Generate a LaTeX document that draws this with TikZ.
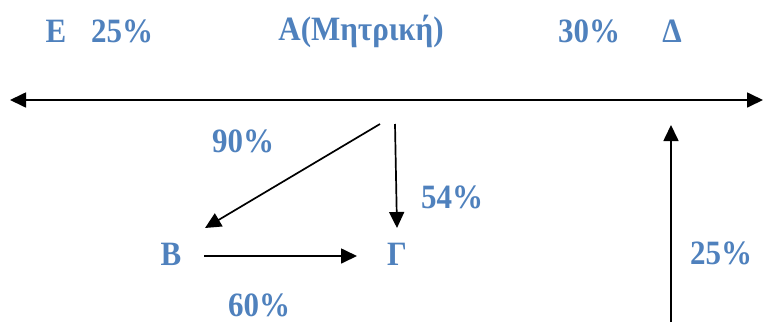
\documentclass[tikz,border=0pt]{standalone}
\usepackage{fontspec}
\setmainfont{Liberation Serif}
\usetikzlibrary{arrows.meta}
\definecolor{lblue}{HTML}{4F81BD}
\newcommand{\tall}[1]{\scalebox{1}[1.1]{#1}}
\begin{document}
\begin{tikzpicture}[x=1pt,y=-1pt,
  lbl/.style={text=lblue,font=\fontsize{31}{31}\selectfont\bfseries,inner sep=0pt,anchor=center},
  arr/.style={line width=1.7pt,-{Triangle[length=16pt,width=15pt]}},
  darr/.style={line width=1.7pt,{Triangle[length=16pt,width=15pt]}-{Triangle[length=16pt,width=15pt]}}]
\useasboundingbox (0,0) rectangle (763,322);
\node[lbl] (E) at (56,31) {\tall{Ε}};
\node[lbl] (pE) at (122,31) {\tall{25\%}};
\node[lbl] (A) at (361,31) {\tall{Α(Μητρική)}};
\node[lbl] (pD) at (589,31) {\tall{30\%}};
\node[lbl] (D) at (672,31) {\tall{Δ}};
\node[lbl] (p90) at (243,141) {\tall{90\%}};
\node[lbl] (p54) at (452,197) {\tall{54\%}};
\node[lbl] (B) at (171,254) {\tall{Β}};
\node[lbl] (G) at (397,254) {\tall{Γ}};
\node[lbl] (p25) at (721,253) {\tall{25\%}};
\node[lbl] (p60) at (259,305) {\tall{60\%}};
\coordinate (L) at (10,100);
\coordinate (R) at (763,100);
\coordinate (a1) at (380,124);
\coordinate (a2) at (395,124);
\coordinate (b1) at (205,228);
\coordinate (g1) at (397,228);
\coordinate (b2) at (204,256);
\coordinate (g2) at (357,256);
\coordinate (d0) at (671,322);
\coordinate (d1) at (671,125);
\draw[darr] (L) -- (R);
\draw[arr] (a1) -- (b1);
\draw[arr] (a2) -- (g1);
\draw[arr] (b2) -- (g2);
\draw[arr] (d0) -- (d1);
\end{tikzpicture}
\end{document}
